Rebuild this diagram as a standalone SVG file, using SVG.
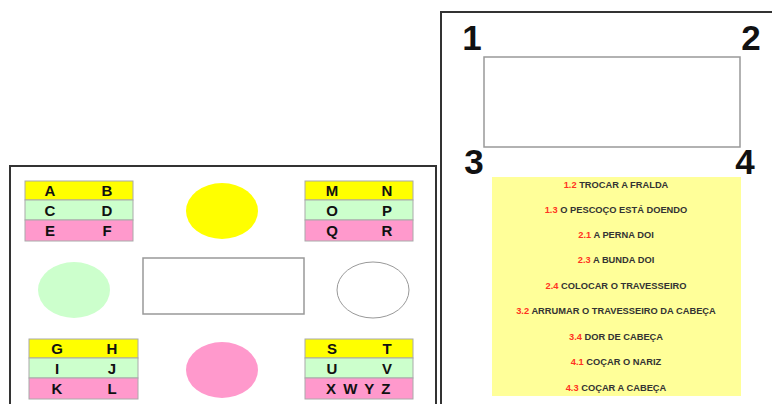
<svg xmlns="http://www.w3.org/2000/svg" width="772" height="404" viewBox="0 0 772 404">
<style>
.panel{fill:#fff;stroke:#333;stroke-width:2}
.y{fill:#FFFF00}.g{fill:#CCFFCC}.p{fill:#FF99CC}
.cell{stroke:#aaa;stroke-width:1}
.L{font-family:"Liberation Sans",Arial,sans-serif;font-weight:bold;font-size:15px;fill:#111;text-anchor:middle}
.N{font-family:"Liberation Sans",Arial,sans-serif;font-weight:bold;font-size:35px;fill:#111;text-anchor:middle}
.T{font-family:"Liberation Sans",Arial,sans-serif;font-weight:bold;font-size:9.3px;fill:#333;text-anchor:middle}
.r{fill:#FF3322}
.box{fill:#fff;stroke:#999;stroke-width:1.5}
</style>
<rect class="panel" x="10" y="166" width="426" height="250"/>
<rect class="panel" x="441" y="12" width="340" height="400"/>

<g id="table-AF">
<rect class="y cell" x="25" y="181" width="108" height="19"/>
<rect class="g cell" x="25" y="200" width="108" height="20"/>
<rect class="p cell" x="25" y="220" width="108" height="21"/>
<text class="L" x="50" y="196">A</text><text class="L" x="107" y="196">B</text>
<text class="L" x="50" y="216">C</text><text class="L" x="107" y="216">D</text>
<text class="L" x="50" y="236">E</text><text class="L" x="107" y="236">F</text>
</g>
<g id="table-MR">
<rect class="y cell" x="305" y="181" width="108" height="19"/>
<rect class="g cell" x="305" y="200" width="108" height="20"/>
<rect class="p cell" x="305" y="220" width="108" height="21"/>
<text class="L" x="332" y="196">M</text><text class="L" x="387" y="196">N</text>
<text class="L" x="332" y="216">O</text><text class="L" x="387" y="216">P</text>
<text class="L" x="332" y="236">Q</text><text class="L" x="387" y="236">R</text>
</g>
<g id="table-GL">
<rect class="y cell" x="29" y="339" width="109" height="19"/>
<rect class="g cell" x="29" y="358" width="109" height="20"/>
<rect class="p cell" x="29" y="378" width="109" height="21"/>
<text class="L" x="57" y="354">G</text><text class="L" x="112" y="354">H</text>
<text class="L" x="57" y="374">I</text><text class="L" x="112" y="374">J</text>
<text class="L" x="57" y="394">K</text><text class="L" x="112" y="394">L</text>
</g>
<g id="table-SZ">
<rect class="y cell" x="305" y="339" width="108" height="19"/>
<rect class="g cell" x="305" y="358" width="108" height="20"/>
<rect class="p cell" x="305" y="378" width="108" height="21"/>
<text class="L" x="332" y="354">S</text><text class="L" x="387" y="354">T</text>
<text class="L" x="332" y="374">U</text><text class="L" x="387" y="374">V</text>
<text class="L" x="359" y="394" letter-spacing="1.5">X W Y Z</text>
</g>

<g id="ellipse-yellow"><ellipse class="y" cx="222" cy="211" rx="36" ry="28"/></g>
<g id="ellipse-green"><ellipse class="g" cx="74" cy="290" rx="36" ry="28"/></g>
<g id="ellipse-white"><ellipse cx="373" cy="290" rx="36" ry="28" fill="#fff" stroke="#999" stroke-width="1"/></g>
<g id="ellipse-pink"><ellipse class="p" cx="222" cy="370" rx="36" ry="28"/></g>
<g id="center-rect"><rect class="box" x="143" y="258" width="161" height="56"/></g>

<g id="right-rect"><rect class="box" x="484" y="57" width="256" height="90"/></g>
<g id="corner-labels">
<text class="N" x="472" y="50">1</text>
<text class="N" x="751" y="50">2</text>
<text class="N" x="474" y="174">3</text>
<text class="N" x="745" y="174">4</text>
</g>

<g id="list">
<rect x="492" y="177" width="249" height="219" fill="#FFFF99"/>
<text class="T" x="616" y="187.5"><tspan class="r">1.2</tspan> TROCAR A FRALDA</text>
<text class="T" x="616" y="212.5"><tspan class="r">1.3</tspan> O PESCOÇO ESTÁ DOENDO</text>
<text class="T" x="616" y="237.5"><tspan class="r">2.1</tspan> A PERNA DOI</text>
<text class="T" x="616" y="262.5"><tspan class="r">2.3</tspan> A BUNDA DOI</text>
<text class="T" x="616" y="288.5"><tspan class="r">2.4</tspan> COLOCAR O TRAVESSEIRO</text>
<text class="T" x="616" y="313.5"><tspan class="r">3.2</tspan> ARRUMAR O TRAVESSEIRO DA CABEÇA</text>
<text class="T" x="616" y="339.5"><tspan class="r">3.4</tspan> DOR DE CABEÇA</text>
<text class="T" x="616" y="364.5"><tspan class="r">4.1</tspan> COÇAR O NARIZ</text>
<text class="T" x="616" y="390.5"><tspan class="r">4.3</tspan> COÇAR A CABEÇA</text>
</g>
</svg>
